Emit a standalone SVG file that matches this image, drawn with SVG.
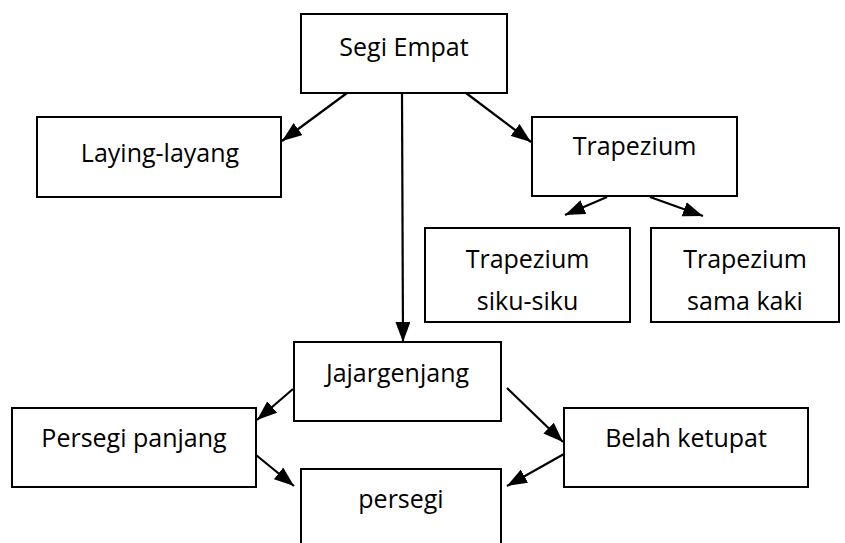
<svg xmlns="http://www.w3.org/2000/svg" width="845" height="543" viewBox="0 0 845 543">
<defs>
<style>
.box{fill:#fff;stroke:#000;stroke-width:2}
.t{font-family:"Open Sans","Liberation Sans",sans-serif;font-size:25px;fill:#000;text-anchor:middle}
.c{stroke:#000;stroke-width:2.2;fill:none;marker-end:url(#ah)}
</style>
<marker id="ah" viewBox="0 0 20 15" refX="20" refY="7.5" markerWidth="20" markerHeight="15" markerUnits="userSpaceOnUse" orient="auto">
<path d="M0,0 L20,7.5 L0,15 Z" fill="#000"/>
</marker>
</defs>
<rect width="845" height="543" fill="#fff"/>
<g id="n-segi"><rect class="box" x="301" y="14" width="206" height="79"/><text class="t" x="404" y="56">Segi Empat</text></g>
<g id="n-layang"><rect class="box" x="37" y="117" width="244" height="80"/><text class="t" x="160" y="162">Laying-layang</text></g>
<g id="n-trap"><rect class="box" x="532" y="117" width="205" height="79"/><text class="t" x="634.5" y="155">Trapezium</text></g>
<g id="n-siku"><rect class="box" x="425" y="228" width="205" height="94"/><text class="t" x="527.5" y="268">Trapezium</text><text class="t" x="527.5" y="310">siku-siku</text></g>
<g id="n-kaki"><rect class="box" x="651" y="228" width="188" height="94"/><text class="t" x="745" y="268">Trapezium</text><text class="t" x="745" y="310">sama kaki</text></g>
<g id="n-jajar"><rect class="box" x="294" y="342" width="207" height="79"/><text class="t" x="397.5" y="382">Jajargenjang</text></g>
<g id="n-pp"><rect class="box" x="12" y="408" width="244" height="79"/><text class="t" x="134" y="447">Persegi panjang</text></g>
<g id="n-belah"><rect class="box" x="564" y="408" width="244" height="79"/><text class="t" x="686" y="447">Belah ketupat</text></g>
<g id="n-persegi"><rect class="box" x="301" y="469" width="200" height="90"/><text class="t" x="401" y="508">persegi</text></g>
<g id="connectors">
<line class="c" x1="347" y1="93" x2="282" y2="141"/>
<line class="c" x1="466" y1="93" x2="531" y2="142"/>
<line class="c" x1="402" y1="93" x2="403" y2="342"/>
<line class="c" x1="607" y1="197" x2="565" y2="215"/>
<line class="c" x1="650" y1="197" x2="703" y2="216"/>
<line class="c" x1="293" y1="389" x2="257" y2="420"/>
<line class="c" x1="256" y1="455" x2="294" y2="486"/>
<line class="c" x1="507" y1="388" x2="563" y2="442"/>
<line class="c" x1="564" y1="454" x2="507" y2="486"/>
</g>
</svg>
